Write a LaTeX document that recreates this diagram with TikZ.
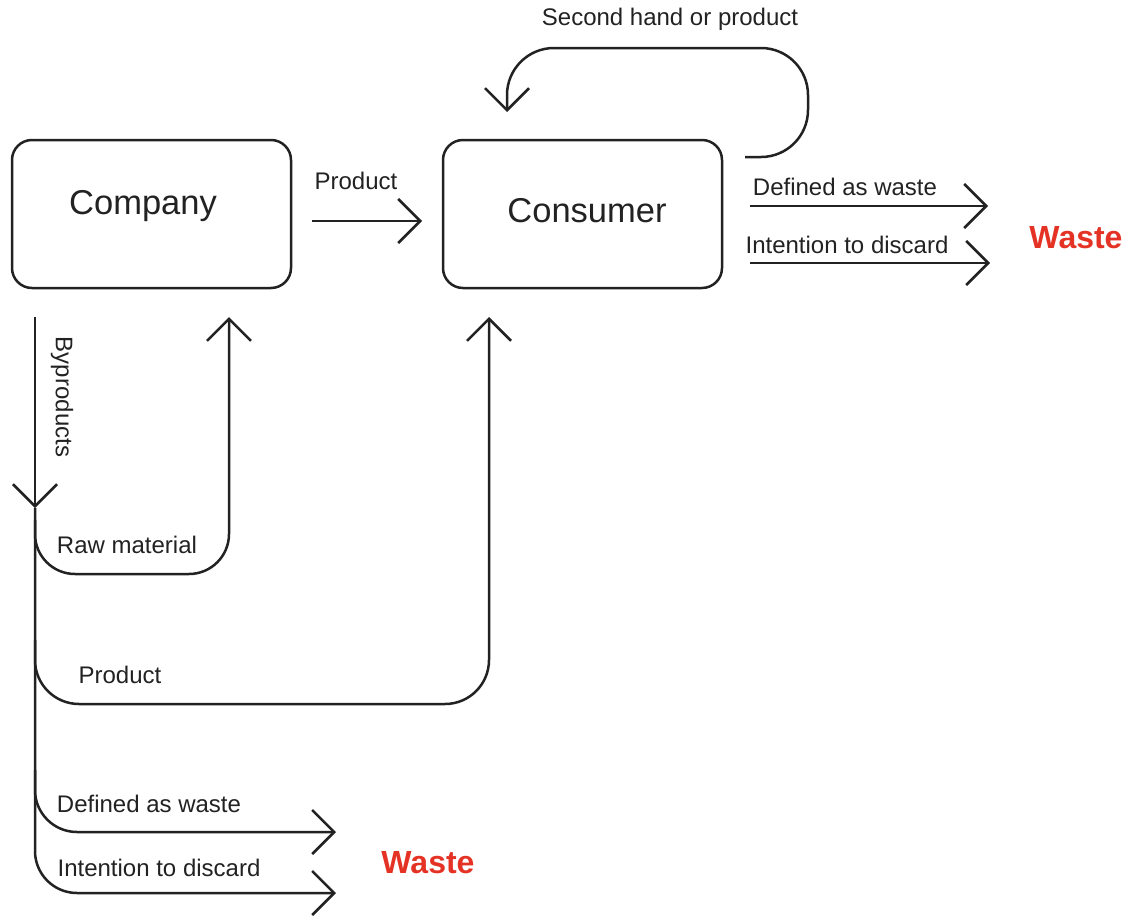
\documentclass[tikz,border=0pt]{standalone}
\usepackage{fontspec}
\setmainfont{Liberation Sans}
\usetikzlibrary{arrows.meta}
\definecolor{ink}{RGB}{34,34,34}
\definecolor{wred}{RGB}{228,50,36}
\begin{document}
\begin{tikzpicture}[x=1pt,y=-1pt,
  box/.style={draw=ink,line width=2.5pt,rounded corners=20pt,minimum width=279pt,minimum height=148pt,inner sep=0pt},
  big/.style={font=\fontsize{34.5}{40}\selectfont,text=ink},
  lbl/.style={font=\fontsize{24}{28}\selectfont,text=ink,inner sep=0pt},
  wastelbl/.style={font=\fontsize{32}{36}\selectfont\bfseries,text=wred,inner sep=0pt},
  ln/.style={draw=ink,line width=2.5pt},
  arr/.style={ln,-{Straight Barb[length=22pt,width=44pt,line width=2.5pt]}}]
\useasboundingbox (0,0) rectangle (1128,918);
\node[box] (company) at (151.5,214) {};
\node[big] (companyt) at (143,206) {Company};
\node[box] (consumer) at (582.5,214) {};
\node[big] (consumert) at (587,211) {Consumer};
\node[wastelbl] (waste1) at (1076,238) {Waste};
\node[wastelbl] (waste2) at (428,863) {Waste};
% labels
\node[lbl] (lprod) at (356,181) {Product};
\node[lbl] (lsecond) at (670,19) {Second hand or product};
\node[lbl] (ldef1) at (845,187) {Defined as waste};
\node[lbl] (lint1) at (847,245) {Intention to discard};
\node[lbl,rotate=-90] (lby) at (62,397) {Byproducts};
\node[lbl] (lraw) at (127,545) {Raw material};
\node[lbl] (lprod2) at (120,675) {Product};
\node[lbl] (ldef2) at (149,804) {Defined as waste};
\node[lbl] (lint2) at (159,868) {Intention to discard};
% coordinates
\coordinate (p1) at (312,221);
\coordinate (p2) at (422,221);
\coordinate (l1) at (745,157);
\coordinate (l2) at (808,157);
\coordinate (l3) at (808,48);
\coordinate (l4) at (507,48);
\coordinate (l5) at (507,112);
\coordinate (d1a) at (750,206);
\coordinate (d1b) at (988,206);
\coordinate (i1a) at (750,263);
\coordinate (i1b) at (990,263);
\coordinate (t0) at (35,317);
\coordinate (t1) at (35,508);
\coordinate (tc) at (35,893);
\coordinate (i2b) at (336,893);
\coordinate (r0) at (35,520);
\coordinate (rc) at (35,574);
\coordinate (rd) at (229,574);
\coordinate (re) at (229,317);
\coordinate (q0) at (35,640);
\coordinate (qc) at (35,704);
\coordinate (qd) at (489,704);
\coordinate (qe) at (489,317);
\coordinate (w0) at (35,770);
\coordinate (wc) at (35,832);
\coordinate (wd) at (336,832);
% connectors
\draw[arr] (p1) -- (p2);
\draw[arr,rounded corners=47pt] (l1) -- (l2) -- (l3) -- (l4) -- (l5);
\draw[arr] (d1a) -- (d1b);
\draw[arr] (i1a) -- (i1b);
\draw[arr] (t0) -- (t1);
\draw[arr,rounded corners=42pt] (t1) -- (tc) -- (i2b);
\draw[arr,rounded corners=40pt] (r0) -- (rc) -- (rd) -- (re);
\draw[arr,rounded corners=44pt] (q0) -- (qc) -- (qd) -- (qe);
\draw[arr,rounded corners=42pt] (w0) -- (wc) -- (wd);
\end{tikzpicture}
\end{document}
